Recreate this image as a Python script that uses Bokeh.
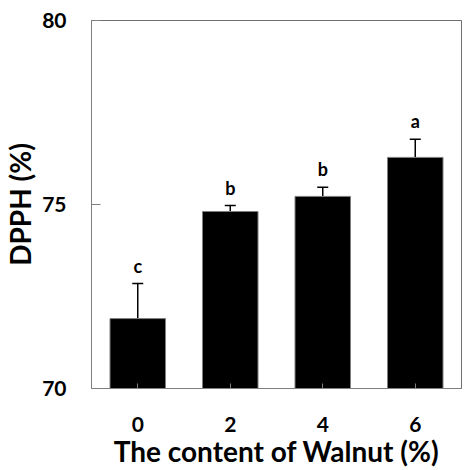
from bokeh.plotting import figure
from bokeh.models import ColumnDataSource, Range1d, FactorRange, Whisker, TeeHead, FixedTicker
from bokeh.core.properties import value
from bokeh.embed import file_html
from bokeh.resources import INLINE

categories = ["0", "2", "4", "6"]
dpph = [71.9, 74.81, 75.22, 76.28]
errors = [0.95, 0.16, 0.25, 0.49]
letters = ["c", "b", "b", "a"]
y_ticks = [70, 75, 80]

upper = [v + e for v, e in zip(dpph, errors)]
src = ColumnDataSource(dict(cat=categories, val=dpph, upper=upper, lab=letters))

FONT = "Lato"

p = figure(width=462, height=470, output_backend="svg", toolbar_location=None,
           x_range=FactorRange(factors=categories, range_padding=0.0),
           y_range=Range1d(70, 80),
           min_border_left=82, min_border_right=1, min_border_top=20, min_border_bottom=82)

p.vbar(x="cat", top="val", bottom=70, width=0.6, source=src,
       fill_color="black", line_color="#7f7f7f", line_width=1)

w = Whisker(source=src, base="cat", lower="val", upper="upper",
            line_color="black", line_width=1.5,
            upper_head=TeeHead(size=11, line_color="black", line_width=1.5),
            lower_head=None)
p.add_layout(w)

p.text(x="cat", y="upper", text="lab", source=src, text_align="center",
       text_baseline="middle", y_offset=-18, text_font=value(FONT),
       text_font_style="bold", text_font_size="18px", text_color="black")

p.grid.visible = False
p.background_fill_color = "white"
p.border_fill_color = "white"
p.outline_line_color = "#6f6f6f"
p.outline_line_width = 1

yax = p.yaxis[0]
yax.ticker = FixedTicker(ticks=y_ticks)
yax.minor_tick_line_color = None
yax.major_tick_in = 9
yax.major_tick_out = 0
yax.major_tick_line_color = "#7f7f7f"
yax.axis_line_color = "#7f7f7f"
yax.major_label_standoff = 25
yax.major_label_text_font = FONT
yax.major_label_text_font_style = "bold"
yax.major_label_text_font_size = "21px"
yax.major_label_text_color = "black"
yax.axis_label = "DPPH (%)"
yax.axis_label_text_font = FONT
yax.axis_label_text_font_style = "bold"
yax.axis_label_text_font_size = "28px"
yax.axis_label_text_color = "black"
yax.axis_label_standoff = 2

xax = p.xaxis[0]
xax.major_tick_in = 5
xax.major_tick_out = 0
xax.major_tick_line_color = "#7f7f7f"
xax.axis_line_color = "#7f7f7f"
xax.major_label_standoff = 28
xax.major_label_text_font = FONT
xax.major_label_text_font_style = "bold"
xax.major_label_text_font_size = "21px"
xax.major_label_text_color = "black"
xax.axis_label = "The content of Walnut (%)"
xax.axis_label_text_font = FONT
xax.axis_label_text_font_style = "bold"
xax.axis_label_text_font_size = "28px"
xax.axis_label_text_color = "black"
xax.axis_label_standoff = -1

open("out.html", "w").write(file_html(p, INLINE))
